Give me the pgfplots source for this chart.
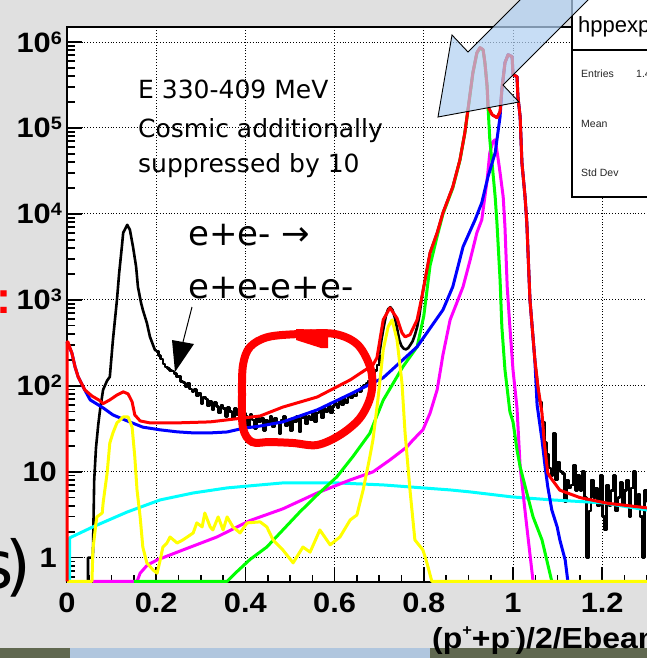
\documentclass[border=0pt]{standalone}
\usepackage{pgfplots}
\pgfplotsset{compat=1.18}
\usepackage{fontspec}
\setmainfont{Liberation Sans}
\newfontfamily\rootfont[FakeStretch=1.1]{Liberation Sans}
\newfontfamily\handfont{DejaVu Sans}
\definecolor{marble}{RGB}{224,224,224}
\definecolor{arrowblue}{RGB}{178,208,242}
\definecolor{skyband}{RGB}{176,198,222}
\definecolor{hills}{RGB}{96,104,80}
\definecolor{hred}{RGB}{255,0,0}
\definecolor{hblue}{RGB}{0,0,255}
\definecolor{hgreen}{RGB}{0,255,0}
\definecolor{hmagenta}{RGB}{255,0,255}
\definecolor{hcyan}{RGB}{0,255,255}
\definecolor{hyellow}{RGB}{255,255,0}
\newcommand\ticklab{\rootfont\bfseries\fontsize{28}{28}\selectfont}
\newcommand\tenp[1]{10\raisebox{8pt}{\fontsize{18}{18}\selectfont #1}}
\newcommand\sups[1]{\raisebox{0.42em}{\fontsize{15}{15}\selectfont #1}}

\begin{document}
\begin{tikzpicture}
\path[use as bounding box] (0,0) rectangle (647pt,-658pt);
\clip (0,0) rectangle (647pt,-658pt);
\begin{scope}[x=1pt,y=-1pt]
  \fill[marble] (0,0) rectangle (647,658);
  \fill[hills] (0,648) rectangle (70,658);
  \fill[skyband] (70,648) rectangle (430,658);
  \fill[hills] (430,648) rectangle (647,658);
\end{scope}

\begin{axis}[
  at={(67pt,-582pt)}, anchor=south west,
  scale only axis, width=669pt, height=555pt,
  xmin=0, xmax=1.5, ymode=log, ymin=0.521, ymax=1.493e6,
  clip=false,
  axis background/.style={fill=white},
  axis line style={line width=1.4pt},
  tick pos=left, tick align=inside,
  major tick length=15pt, minor tick length=7.5pt,
  every tick/.style={black, line width=1.6pt},
  xtick={0,0.2,0.4,0.6,0.8,1,1.2,1.4},
  xticklabels={0,0.2,0.4,0.6,0.8,1,1.2,1.4},
  minor x tick num=3,
  ytick={1,10,100,1000,10000,100000,1000000},
  yticklabels={1\kern5pt,10\kern5pt,\tenp{2},\tenp{3},\tenp{4},\tenp{5},\tenp{6}},
  minor ytick={0.6,0.7,0.8,0.9,2,3,4,5,6,7,8,9,20,30,40,50,60,70,80,90,
    200,300,400,500,600,700,800,900,2000,3000,4000,5000,6000,7000,8000,9000,
    20000,30000,40000,50000,60000,70000,80000,90000,
    200000,300000,400000,500000,600000,700000,800000,900000},
  grid=major,
  major grid style={black, line width=0.9pt, dotted},
  tick label style={font=\ticklab},
  xticklabel style={anchor=north, inner sep=0pt, yshift=-11pt},
  yticklabel style={anchor=east, inner sep=0pt, xshift=-5pt},
  every axis plot/.append style={line width=3pt, line join=round, no markers},
]

% measured spectrum: e+e- -> e+e-e+e- peak
\addplot[black, line width=2.6pt] coordinates {
(0.047,0.53) (0.047,1.0) (0.058,1.0) (0.061,8) (0.065,19) (0.070,35) (0.074,52)
(0.081,90) (0.090,115) (0.096,127) (0.103,342) (0.112,1000) (0.117,2060)
(0.123,4140) (0.126,6030) (0.135,7460) (0.141,6530) (0.148,4140) (0.155,2420)
(0.159,1420) (0.166,923) (0.170,765) (0.179,540) (0.186,371) (0.197,262) (0.200,255)};
% measured spectrum: continuum
\addplot[black, line width=2.6pt, const plot mark left] coordinates {
(0.200,255) (0.205,225) (0.210,205) (0.215,180) (0.220,165) (0.225,160) (0.230,150)
(0.235,148) (0.240,138) (0.245,126) (0.250,130) (0.255,112) (0.260,110) (0.265,98)
(0.270,108) (0.275,92) (0.280,86) (0.285,90) (0.290,76) (0.295,82) (0.300,62)
(0.305,74) (0.310,70) (0.315,58) (0.320,66) (0.325,52) (0.330,64) (0.335,57)
(0.340,48) (0.345,60) (0.350,54) (0.355,44) (0.360,56) (0.365,50) (0.370,42)
(0.375,54) (0.380,46) (0.385,50) (0.390,38) (0.395,48) (0.400,44) (0.405,34)
(0.410,46) (0.415,40) (0.420,32) (0.425,44) (0.430,38) (0.435,42) (0.440,30)
(0.445,40) (0.450,36) (0.455,44) (0.460,33) (0.465,42) (0.470,38) (0.475,28)
(0.480,40) (0.485,44) (0.490,34) (0.495,40) (0.500,30) (0.505,42) (0.510,38)
(0.515,44) (0.520,29) (0.525,42) (0.530,46) (0.535,36) (0.540,44) (0.545,40)
(0.550,50) (0.555,38) (0.560,48) (0.565,52) (0.570,42) (0.575,54) (0.580,50)
(0.585,60) (0.590,48) (0.595,58) (0.600,62) (0.605,56) (0.610,66) (0.615,60)
(0.620,70) (0.625,64) (0.630,76) (0.635,72) (0.640,80) (0.645,76) (0.650,88)
(0.655,86) (0.660,96) (0.665,100) (0.670,106) (0.675,114) (0.680,124)
(0.685,136) (0.690,150) (0.695,175) (0.700,230)};
% measured spectrum: main peaks
\addplot[black, line width=2.6pt] coordinates {
(0.700,230) (0.705,340) (0.710,480) (0.715,650) (0.720,780) (0.725,820) (0.730,760)
(0.735,620) (0.740,470) (0.745,340) (0.750,290) (0.755,270) (0.760,265) (0.765,275)
(0.770,300) (0.775,330) (0.780,390) (0.785,480) (0.790,650) (0.796,1100)
(0.814,3520) (0.830,6030) (0.843,10300) (0.865,20600) (0.881,42500) (0.892,87700)
(0.899,163000) (0.910,438000) (0.919,750000) (0.926,859000) (0.933,813000)
(0.937,574000) (0.942,302000) (0.944,176600) (0.953,142600) (0.964,131600)
(0.971,154500) (0.975,279000) (0.982,574000) (0.989,711000) (0.998,675000)
(1.000,417000) (1.009,394000) (1.011,231000) (1.016,135200) (1.020,39400)
(1.027,15800) (1.031,7870) (1.038,1000) (1.049,200) (1.056,97) (1.060,65)};
% measured spectrum: tail
\addplot[black, line width=2.6pt, const plot mark left] coordinates {
(1.060,65) (1.065,38) (1.070,22) (1.075,16) (1.080,11) (1.085,9) (1.090,28)
(1.095,8) (1.100,13) (1.105,10) (1.110,9.5) (1.115,4.5) (1.120,8) (1.125,6.5)
(1.130,7) (1.135,12) (1.140,6) (1.145,9) (1.150,6) (1.155,10) (1.160,5)
(1.165,1.0) (1.170,3.5) (1.175,8) (1.180,5) (1.185,6.5) (1.190,4) (1.195,9)
(1.200,3) (1.205,2.1) (1.210,7) (1.215,4) (1.220,6) (1.225,9) (1.230,3.5)
(1.235,5) (1.240,7.5) (1.245,4) (1.250,6) (1.255,8) (1.260,3) (1.265,6.5)
(1.270,10) (1.275,4) (1.280,5.5) (1.285,3) (1.290,1.0) (1.295,6) (1.300,4.5)
(1.305,7) (1.310,3.5) (1.315,5)};

% cosmic background
\addplot[hcyan] coordinates {
(0.006,0.53) (0.006,1.7) (0.058,2.28) (0.135,3.40) (0.209,4.70) (0.283,5.66)
(0.359,6.48) (0.433,7.02) (0.484,7.41) (0.605,7.41) (0.709,7.02) (0.798,6.48)
(0.859,6.14) (0.904,5.82) (0.998,5.09) (1.087,4.70) (1.202,4.34) (1.300,3.59)
(1.350,3.3)};

% magenta component
\addplot[hmagenta] coordinates {
(0.058,0.53) (0.157,0.53) (0.164,0.66) (0.180,0.82) (0.202,0.94) (0.260,1.23)
(0.336,1.74) (0.410,2.70) (0.484,3.70) (0.561,5.66) (0.635,8.03) (0.686,9.95)
(0.724,13.7) (0.762,19.4) (0.776,23.5) (0.798,30.7) (0.814,48) (0.830,90)
(0.843,230) (0.859,585) (0.874,923) (0.888,1420) (0.904,2920) (0.919,6030)
(0.930,8530) (0.942,24900) (0.948,51400) (0.955,69200) (0.960,72950)
(0.966,46200) (0.971,30100) (0.978,15800) (0.982,7000) (0.987,1420)
(0.993,485) (1.000,153) (1.009,55) (1.016,11.4) (1.031,2.28) (1.045,0.53)};

% green component
\addplot[hgreen] coordinates {
(0.150,0.53) (0.359,0.53) (0.380,0.68) (0.410,0.95) (0.448,1.33) (0.484,2.1)
(0.522,3.4) (0.561,5.37) (0.605,8.71) (0.641,15) (0.679,28) (0.709,68)
(0.753,166) (0.785,284) (0.800,650) (0.814,2500) (0.830,5500) (0.843,10000)
(0.865,20000) (0.881,42000) (0.892,87000) (0.899,160000) (0.910,430000)
(0.919,740000) (0.926,850000) (0.933,800000) (0.937,570000) (0.942,300000)
(0.944,176600) (0.948,72950) (0.953,39400) (0.960,15800) (0.964,7870)
(0.971,1710) (0.975,485) (0.982,153) (0.993,50) (1.000,38) (1.009,17.9)
(1.016,11.4) (1.031,5.66) (1.045,2.98) (1.065,1.61) (1.087,0.53)};

% blue component
\addplot[hblue] coordinates {
(0,324) (0.011,240) (0.018,166) (0.025,127) (0.040,89) (0.052,68.5) (0.081,55.3)
(0.103,45.8) (0.135,39) (0.170,33) (0.209,30.7) (0.247,29.1) (0.283,28.3)
(0.321,28.3) (0.359,29) (0.395,32) (0.433,34) (0.484,38) (0.561,52.4)
(0.635,80) (0.709,124) (0.785,284) (0.843,765) (0.865,1420) (0.888,4140)
(0.915,8530) (0.930,13500) (0.944,27100) (0.960,51400) (0.971,135000)
(0.975,279000) (0.982,574000) (0.989,711000) (0.998,675000) (1.000,417000)
(1.009,394000) (1.011,231000) (1.016,135200) (1.020,39400) (1.027,15800)
(1.031,7870) (1.038,1000) (1.049,200) (1.054,60) (1.065,23.5) (1.072,11.4)
(1.078,6.65) (1.087,3.59) (1.099,2.28) (1.105,1.61) (1.117,0.94) (1.123,0.53)};

% yellow component
\addplot[hyellow] coordinates {
(0,0.53) (0.056,0.53) (0.058,1.23) (0.065,2.54) (0.067,2.98) (0.079,3.31)
(0.081,4.34) (0.090,9.69) (0.096,21.6) (0.103,28.3) (0.112,37) (0.126,43.4)
(0.137,43.4) (0.146,33) (0.152,14.9) (0.157,6.14) (0.164,2.98) (0.170,1.33)
(0.179,0.87) (0.193,0.72) (0.202,0.66) (0.209,0.94) (0.215,1.33) (0.224,1.48)
(0.231,1.74) (0.247,1.48) (0.260,1.61) (0.283,1.94) (0.291,2.54) (0.303,2.28)
(0.309,3.31) (0.321,2.28) (0.327,2.10) (0.339,2.98) (0.350,2.10) (0.359,2.98)
(0.372,2.28) (0.388,1.94) (0.404,2.54) (0.433,2.61) (0.448,2.28) (0.462,1.61)
(0.484,1.23) (0.507,0.87) (0.529,1.33) (0.545,1.16) (0.567,2.10) (0.590,1.41)
(0.612,1.74) (0.635,2.75) (0.650,3.14) (0.664,6.14) (0.679,14.9) (0.686,23.5)
(0.697,68.5) (0.709,262) (0.720,485) (0.729,585) (0.740,342) (0.751,108)
(0.758,28.3) (0.769,6.14) (0.780,1.61) (0.798,1.23) (0.807,0.87) (0.818,0.53)
(1.350,0.53)};

% total fit
\addplot[hred] coordinates {
(0,0.53) (0,324) (0.002,324) (0.011,240) (0.018,166) (0.025,127) (0.040,89.5)
(0.056,76) (0.074,67) (0.081,62) (0.096,68.5) (0.112,78) (0.126,85) (0.137,80.5)
(0.146,65) (0.152,45.8) (0.164,39) (0.186,37) (0.247,37) (0.321,38) (0.392,42)
(0.433,44.5) (0.484,56.5) (0.561,74) (0.635,117) (0.686,175) (0.695,212)
(0.709,585) (0.724,807) (0.740,610) (0.751,413) (0.758,371) (0.769,392)
(0.785,585) (0.796,1100) (0.814,3520) (0.830,6030) (0.843,10300) (0.865,20600)
(0.881,42500) (0.892,87700) (0.899,163000) (0.910,438000) (0.919,750000)
(0.926,859000) (0.933,813000) (0.937,574000) (0.942,302000) (0.944,176600)
(0.953,142600) (0.964,131600) (0.971,154500) (0.975,279000) (0.982,574000)
(0.989,711000) (0.998,675000) (1.000,417000) (1.009,394000) (1.011,231000)
(1.016,135200) (1.020,39400) (1.027,15800) (1.031,7870) (1.038,1000)
(1.049,200) (1.056,97) (1.065,48) (1.070,22) (1.078,9.7) (1.083,8.7)
(1.105,6.1) (1.150,5.0) (1.211,4.3) (1.300,3.8) (1.350,3.6)};
\end{axis}

\begin{scope}[x=1pt,y=-1pt]
  % statistics box
  \draw[line width=1.6pt, fill=white] (572,-5) rectangle (700,197);
  \draw[line width=1.6pt] (572,50) -- (700,50);
  \node[anchor=base west, inner sep=0, font=\fontsize{22}{22}\selectfont] at (578,33) {hppexp};
  \node[anchor=base west, inner sep=0, black!85, font=\fontsize{10.5}{10.5}\selectfont] at (581,78) {Entries};
  \node[anchor=base west, inner sep=0, black!85, font=\fontsize{10.5}{10.5}\selectfont] at (636,78) {1.4};
  \node[anchor=base west, inner sep=0, black!85, font=\fontsize{10.5}{10.5}\selectfont] at (581,128) {Mean};
  \node[anchor=base west, inner sep=0, black!85, font=\fontsize{10.5}{10.5}\selectfont] at (581,176) {Std Dev};

  % pointer to the peaks
  \fill[arrowblue, fill opacity=0.72] (560,-40) -- (468,52) -- (452,35) -- (438,117) -- (519,102) -- (503,85) -- (628,-40) -- cycle;
  \draw[line width=0.9pt, line join=miter] (560,-40) -- (468,52) -- (452,35) -- (438,117) -- (519,102) -- (503,85) -- (628,-40);

  % hand-drawn loop
  \draw[hred, line width=8pt, line cap=round] plot[smooth cycle, tension=0.55] coordinates {
    (300,334) (335,334) (358,345) (371,370) (371,395) (360,418) (340,435) (317,445)
    (293,443) (270,442) (252,442) (243,428) (242,395) (243,365) (250,347) (268,337)};
  \fill[hred] (296,329) -- (328,330) -- (328,348) -- (321,348) -- (296,340) -- cycle;

  % arrow to the four-lepton peak
  \draw[line width=1pt] (192,307) -- (183,342);
  \fill (172,340) -- (194,344) -- (175,372) -- cycle;

  % notes
  \node[anchor=base west, inner sep=0, font=\handfont\fontsize{25}{25}\selectfont] at (138,99) {E 330-409 MeV};
  \node[anchor=base west, inner sep=0, font=\handfont\fontsize{25}{25}\selectfont] at (138,137) {Cosmic additionally};
  \node[anchor=base west, inner sep=0, font=\handfont\fontsize{25}{25}\selectfont] at (138,172) {suppressed by 10};
  \node[anchor=base west, inner sep=0, font=\handfont\fontsize{34}{34}\selectfont] at (188,245) {e+e- →};
  \node[anchor=base west, inner sep=0, font=\handfont\fontsize{34}{34}\selectfont] at (188,298) {e+e-e+e-};

  % axis title
  \node[anchor=base west, inner sep=0, font=\rootfont\bfseries\fontsize{29}{29}\selectfont] at (432,648) {(p\sups{+}+p\sups{-})/2/Ebeam};

  % slide text at the left edge
  \node[anchor=base, inner sep=0, hred, font=\bfseries\fontsize{45}{45}\selectfont] at (4,313) {:};
  \node[anchor=base east, inner sep=0, font=\handfont\fontsize{66}{66}\selectfont] at (31,588) {s\kern-9pt)};
\end{scope}
\end{tikzpicture}
\end{document}
